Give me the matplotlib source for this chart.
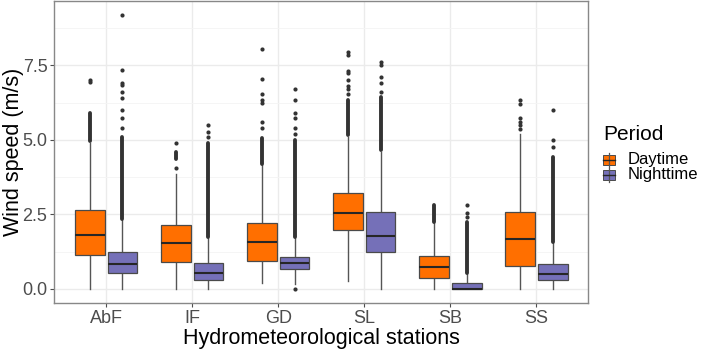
import matplotlib.pyplot as plt
from matplotlib.patches import Rectangle
from matplotlib.lines import Line2D

plt.rcParams['font.family'] = ['Liberation Sans', 'DejaVu Sans']

stations = ['AbF', 'IF', 'GD', 'SL', 'SB', 'SS']
periods = ['Daytime', 'Nighttime']
colors = ['#FF6F00', '#7570B8']

# box stats: [AbF, IF, GD, SL, SB, SS]
day_q1 = [1.12, 0.90, 0.94, 1.97, 0.36, 0.77]
day_med = [1.82, 1.52, 1.56, 2.55, 0.74, 1.68]
day_q3 = [2.66, 2.13, 2.22, 3.22, 1.09, 2.59]
day_lo = [0.0, 0.0, 0.19, 0.26, 0.0, 0.0]
day_hi = [4.9, 3.85, 4.15, 5.1, 2.2, 5.2]

night_q1 = [0.54, 0.31, 0.66, 1.22, 0.0, 0.29]
night_med = [0.83, 0.53, 0.86, 1.76, 0.0, 0.49]
night_q3 = [1.25, 0.86, 1.07, 2.59, 0.20, 0.82]
night_lo = [0.0, 0.0, 0.15, 0.0, 0.0, 0.0]
night_hi = [2.3, 1.7, 1.7, 4.6, 0.49, 1.54]

# ranges where the outlier dots overlap into a solid column
day_dense = [(4.95, 5.9), (4.35, 4.6), (4.2, 5.05), (5.15, 6.35), (2.25, 2.8), None]
night_dense = [(2.35, 5.1), (1.75, 4.9), (1.75, 5.0), (4.65, 6.45), (0.52, 2.25), (1.58, 4.43)]

# single outliers
day_out = [
    [6.95, 7.0],
    [4.04, 4.9],
    [5.4, 5.6, 6.25, 6.35, 6.55, 7.05, 8.05],
    [6.55, 6.7, 6.8, 7.0, 7.25, 7.3, 7.85, 7.95],
    [],
    [5.35, 5.5, 5.6, 5.75, 6.22, 6.34],
]
night_out = [
    [5.4, 5.75, 6.0, 6.4, 6.6, 6.85, 6.9, 7.35, 9.2],
    [5.1, 5.25, 5.5],
    [0.0, 5.2, 5.4, 5.75, 5.9, 6.35, 6.7],
    [6.6, 6.9, 7.1, 7.5, 7.6],
    [2.4, 2.55, 2.8],
    [4.77, 4.99, 6.0],
]

fig = plt.figure(figsize=(7.06, 3.5), dpi=100)
ax = fig.add_axes([0.077, 0.135, 0.756, 0.862])

ax.set_xlim(0.4, 6.6)
ax.set_ylim(-0.47, 9.66)
ax.set_yticks([0, 2.5, 5.0, 7.5])
ax.set_yticklabels(['0.0', '2.5', '5.0', '7.5'])
ax.set_yticks([1.25, 3.75, 6.25, 8.75], minor=True)
ax.set_xticks(range(1, 7))
ax.set_xticklabels(stations)
ax.grid(True, which='major', color='#EBEBEB', linewidth=1.0)
ax.grid(True, which='minor', axis='y', color='#F4F4F4', linewidth=0.6)
ax.set_axisbelow(True)
for s in ax.spines.values():
    s.set_color('#888888')
    s.set_linewidth(1.0)
ax.tick_params(axis='both', which='major', colors='#4D4D4D', labelsize=13, length=3,
               width=0.8, pad=2)
ax.tick_params(axis='both', which='minor', length=0)

ax.set_xlabel('Hydrometeorological stations', fontsize=15.5, labelpad=1)
ax.set_ylabel('Wind speed (m/s)', fontsize=15.5)
ax.yaxis.set_label_coords(-0.056, 0.5)

groups = [
    (-0.19, colors[0], day_q1, day_med, day_q3, day_lo, day_hi, day_dense, day_out),
    (0.19, colors[1], night_q1, night_med, night_q3, night_lo, night_hi, night_dense, night_out),
]
w = 0.345
for off, col, q1, med, q3, lo, hi, dense, out in groups:
    for i in range(len(stations)):
        x = i + 1 + off
        ax.plot([x, x], [lo[i], q1[i]], color='#555555', lw=1.0, zorder=2)
        ax.plot([x, x], [q3[i], hi[i]], color='#555555', lw=1.0, zorder=2)
        ax.add_patch(Rectangle((x - w / 2, q1[i]), w, q3[i] - q1[i], facecolor=col,
                               edgecolor='#4a4a4a', lw=0.9, zorder=3))
        ax.plot([x - w / 2, x + w / 2], [med[i], med[i]], color='#262626', lw=1.5,
                zorder=4, solid_capstyle='butt')
        if dense[i]:
            ax.plot([x, x], dense[i], color='#333333', lw=2.8, solid_capstyle='round', zorder=3)
        if out[i]:
            ax.plot([x] * len(out[i]), out[i], 'o', color='#333333', ms=3.0, mew=0, zorder=3)

fig.text(0.854, 0.6, 'Period', fontsize=15, ha='left', va='baseline')
for k, (lab, col) in enumerate(zip(periods, colors)):
    yc = 0.543 - k * 0.043
    kx = 0.863
    fig.add_artist(Line2D([kx, kx], [yc - 0.02, yc + 0.02], color='#555555', lw=0.9))
    fig.add_artist(Rectangle((kx - 0.0085, yc - 0.0145), 0.017, 0.029, facecolor=col,
                             edgecolor='#4a4a4a', lw=0.7))
    fig.add_artist(Line2D([kx - 0.0085, kx + 0.0085], [yc, yc], color='#262626', lw=1.0))
    fig.text(0.889, yc, lab, fontsize=12, ha='left', va='center')

fig.savefig('out.png', dpi=100)
